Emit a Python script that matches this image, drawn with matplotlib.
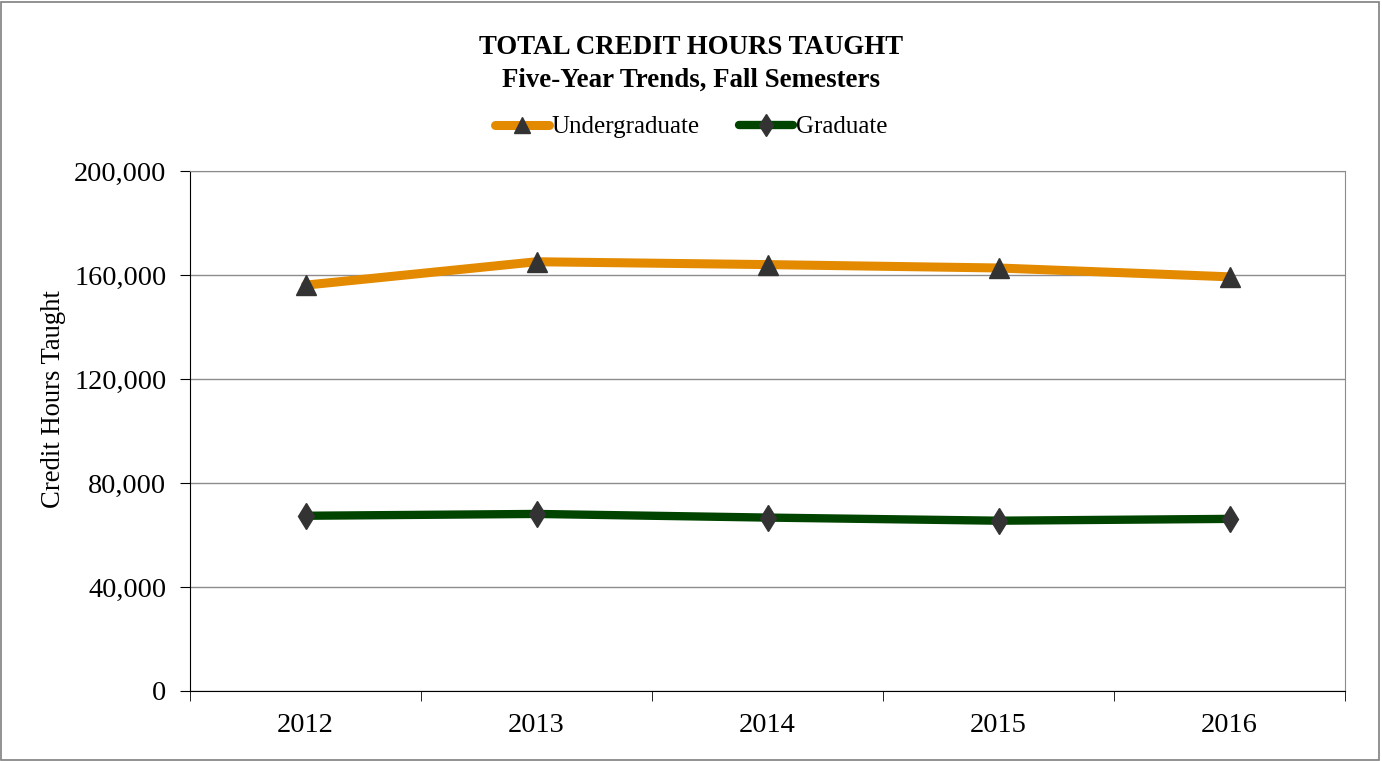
import matplotlib.pyplot as plt
from matplotlib.patches import Rectangle
from matplotlib.ticker import FuncFormatter, MultipleLocator

years = ['2012', '2013', '2014', '2015', '2016']
undergrad = [156100, 165100, 164000, 162700, 159300]
graduate = [67400, 68100, 66700, 65500, 66200]

plt.rcParams['font.family'] = ['Liberation Serif', 'DejaVu Serif']

fig = plt.figure(figsize=(13.82, 7.61), dpi=100)
ax = fig.add_axes([190 / 1382, 1 - 691 / 761, (1345 - 190) / 1382, (691 - 171) / 761])

# outer chart border
fig.patches.append(Rectangle((0.001, 0.001), 0.997, 0.997, transform=fig.transFigure,
                             fill=False, edgecolor='#7f7f7f', linewidth=1.2))

x = range(len(years))
ax.plot(x, undergrad, color='#E38A00', linewidth=6.5, marker='^', markersize=14,
        markerfacecolor='#333333', markeredgecolor='#333333', label='Undergraduate',
        solid_capstyle='round')
ax.plot(x, graduate, color='#004400', linewidth=6, marker='d', markersize=13,
        markerfacecolor='#333333', markeredgecolor='#333333', label='Graduate',
        solid_capstyle='round')

ax.set_xlim(-0.5, 4.5)
ax.set_ylim(0, 200000)
ax.yaxis.set_major_locator(MultipleLocator(40000))
ax.yaxis.set_major_formatter(FuncFormatter(lambda v, p: f'{int(v):,}'))
ax.set_xticks(list(x))
ax.set_xticklabels(years)
ax.tick_params(axis='x', length=0, labelsize=20.5, pad=16)
ax.set_xticks([i - 0.5 for i in range(len(years) + 1)], minor=True)
ax.tick_params(axis='x', which='minor', length=7, direction='out', color='#000000')
ax.tick_params(axis='y', length=7, direction='out', labelsize=20.3, pad=10)

ax.grid(axis='y', color='#8c8c8c', linewidth=1)
ax.set_axisbelow(True)
for side in ['top', 'right']:
    ax.spines[side].set_color('#8c8c8c')
for side in ['left', 'bottom']:
    ax.spines[side].set_color('#000000')

ax.set_ylabel('Credit Hours Taught', fontsize=19.2)
ax.yaxis.set_label_coords(-0.107, 0.5615)

fig.text(0.5, 1 - 48 / 761, 'TOTAL CREDIT HOURS TAUGHT', ha='center', va='center',
         fontsize=19.4, fontweight='bold')
fig.text(0.5, 1 - 80 / 761, 'Five-Year Trends, Fall Semesters', ha='center', va='center',
         fontsize=19.4, fontweight='bold')

fig.legend(loc='center', bbox_to_anchor=(0.5, 1 - 127 / 761), ncol=2, frameon=False,
           fontsize=18, handlelength=2.15, columnspacing=1.6, handletextpad=0.1,
           markerscale=0.85)

fig.savefig('out.png', dpi=100)
